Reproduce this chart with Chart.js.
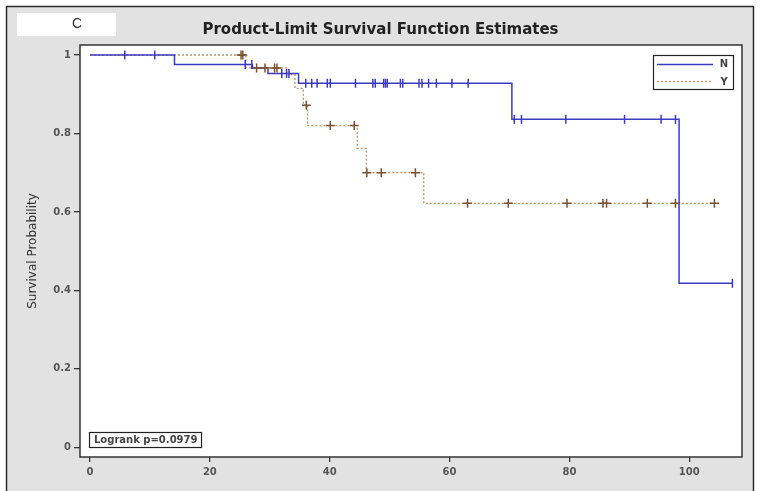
<!DOCTYPE html>
<html>
<head>
<meta charset="utf-8">
<script src="https://cdn.jsdelivr.net/npm/chart.js@4"></script>
<style>
html,body{margin:0;padding:0;background:#fff}
#wrap{position:relative;width:761px;height:491px}
</style>
</head>
<body>
<div id="wrap"><canvas id="km" width="761" height="491"></canvas></div>
<script>
// Kaplan-Meier step values
const nTimes=[0,14.1,27.1,29.7,34.8,70.4,98.3,107.2];
const nSurv=[1,0.976,0.967,0.953,0.928,0.836,0.418,0.418];
const nCensored=[5.8,10.8,25.9,27.0,32.0,32.8,33.2,36.0,37.0,37.9,39.6,40.1,44.3,47.2,47.6,49.0,49.3,49.6,51.8,52.2,54.9,55.4,56.5,57.8,60.4,63.1,70.8,72.0,79.4,89.2,95.3,97.7,107.2];
const yTimes=[0,26.0,33.1,34.2,35.6,36.3,44.6,46.1,55.7,105.0];
const ySurv=[1,0.967,0.95,0.915,0.872,0.82,0.762,0.70,0.622,0.622];
const yCensored=[25.2,25.5,27.8,29.2,30.8,31.2,36.1,40.1,44.1,46.2,48.6,54.3,63.0,69.8,79.6,85.6,86.2,93.0,97.7,104.2];
const xTicks=[0,20,40,60,80,100];
const yTicks=[0,0.2,0.4,0.6,0.8,1];
const groups=['N','Y'];
const pValue='0.0979';

const BLUE='#3b3bc4',ORANGE='#c49068',BROWN='#7a5232';
function survAt(times,surv,t){let s=surv[0];for(let i=0;i<times.length;i++){if(times[i]<=t)s=surv[i];}return s;}
const pts=(ts,ss)=>ts.map((t,i)=>({x:t,y:ss[i]}));
const cens=(cs,ts,ss)=>cs.map(t=>({x:t,y:survAt(ts,ss,t)}));

const deco={
  id:'deco',
  beforeDraw(c){
    const ctx=c.ctx,a=c.chartArea;
    ctx.save();
    ctx.fillStyle='#fff';ctx.fillRect(0,0,761,491);
    ctx.fillStyle='#e2e2e2';ctx.fillRect(6,6,748,485);
    ctx.strokeStyle='#2a2a2a';ctx.lineWidth=1.5;
    ctx.beginPath();ctx.moveTo(6.5,491);ctx.lineTo(6.5,6.5);ctx.lineTo(753.5,6.5);ctx.lineTo(753.5,491);ctx.stroke();
    ctx.fillStyle='#fff';ctx.fillRect(a.left,a.top,a.right-a.left,a.bottom-a.top);
    // panel letter box
    ctx.fillRect(17,13,99,23);
    ctx.fillStyle='#333';ctx.font='14px "Liberation Sans"';ctx.textAlign='center';ctx.textBaseline='middle';
    ctx.fillText('C',77,24);
    ctx.restore();
  },
  afterDatasetsDraw(c){
    const ctx=c.ctx,a=c.chartArea;
    ctx.save();
    ctx.strokeStyle='#333';ctx.lineWidth=1.5;
    ctx.strokeRect(a.left,a.top,a.right-a.left,a.bottom-a.top);
    // legend
    ctx.fillStyle='#fff';ctx.fillRect(653,55,80,35);
    ctx.strokeStyle='#222';ctx.lineWidth=1.2;ctx.strokeRect(653.5,55.5,80,34);
    ctx.lineWidth=1.3;ctx.strokeStyle=BLUE;ctx.beginPath();ctx.moveTo(657,64.5);ctx.lineTo(713,64.5);ctx.stroke();
    ctx.strokeStyle=ORANGE;ctx.setLineDash([2,2]);ctx.beginPath();ctx.moveTo(657,81.5);ctx.lineTo(713,81.5);ctx.stroke();
    ctx.setLineDash([]);
    ctx.fillStyle='#444';ctx.font='bold 10px "DejaVu Sans"';ctx.textAlign='center';ctx.textBaseline='middle';
    ctx.fillText(groups[0],724,64);ctx.fillText(groups[1],724,82);
    // logrank box
    ctx.fillStyle='#fff';ctx.fillRect(89,432,113,16);
    ctx.strokeStyle='#222';ctx.lineWidth=1.2;ctx.strokeRect(89.5,432.5,112,15);
    ctx.fillStyle='#444';ctx.textAlign='left';
    ctx.fillText('Logrank p='+pValue,94,440.5);
    ctx.restore();
  }
};

new Chart(document.getElementById('km'),{
  type:'scatter',
  data:{datasets:[
    {label:'N cens',data:cens(nCensored,nTimes,nSurv),pointStyle:'line',rotation:90,radius:4.5,borderColor:BLUE,borderWidth:1.5,showLine:false,order:0},
    {label:'Y cens',data:cens(yCensored,yTimes,ySurv),pointStyle:'cross',radius:4.5,borderColor:BROWN,borderWidth:1.5,showLine:false,order:0},
    {label:groups[0],data:pts(nTimes,nSurv),showLine:true,stepped:true,borderColor:BLUE,borderWidth:1.5,pointRadius:0,order:1},
    {label:groups[1],data:pts(yTimes,ySurv),showLine:true,stepped:true,borderColor:ORANGE,borderWidth:1.3,borderDash:[2,2],pointRadius:0,order:2}
  ]},
  options:{
    responsive:false,animation:false,events:[],
    layout:{padding:{top:0,right:19,bottom:0,left:19}},
    plugins:{
      legend:{display:false},tooltip:{enabled:false},
      title:{display:true,text:'Product-Limit Survival Function Estimates',color:'#222',font:{family:'"DejaVu Sans"',size:15,weight:'bold',lineHeight:1.2},padding:{top:21,bottom:6}}
    },
    scales:{
      x:{type:'linear',min:-1.67,max:108.8,
        afterBuildTicks:s=>{s.ticks=xTicks.map(v=>({value:v}));},
        afterFit:s=>{s.height=34;},
        grid:{drawOnChartArea:false,drawTicks:true,tickLength:5,color:'#333',lineWidth:1.3},
        border:{display:false},
        ticks:{color:'#555',font:{family:'"DejaVu Sans"',size:10,weight:'bold'},padding:4,maxRotation:0,callback:v=>String(v)}},
      y:{type:'linear',min:-0.0248,max:1.0255,
        afterBuildTicks:s=>{s.ticks=yTicks.map(v=>({value:v}));},
        afterFit:s=>{s.width=61;},
        grid:{drawOnChartArea:false,drawTicks:true,tickLength:6,color:'#333',lineWidth:1.3},
        border:{display:false},
        title:{display:true,text:'Survival Probability',color:'#333',font:{family:'"DejaVu Sans"',size:12},padding:{top:7,bottom:0}},
        ticks:{color:'#555',font:{family:'"DejaVu Sans"',size:10,weight:'bold'},padding:3,callback:v=>String(v)}}
    }
  },
  plugins:[deco]
});
</script>
</body>
</html>
